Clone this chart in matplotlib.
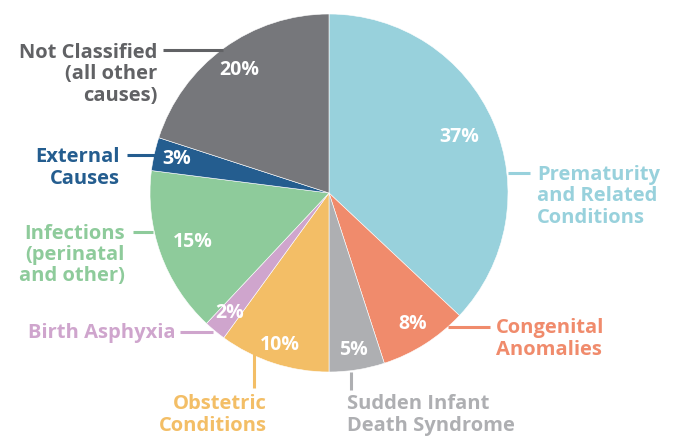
import numpy as np
import matplotlib
matplotlib.use("Agg")
import matplotlib.pyplot as plt

# Causes of infant death, share of total (%)
causes = [
    "Prematurity\nand Related\nConditions",
    "Congenital\nAnomalies",
    "Sudden Infant\nDeath Syndrome",
    "Obstetric\nConditions",
    "Birth Asphyxia",
    "Infections\n(perinatal\nand other)",
    "External\nCauses",
    "Not Classified\n(all other\ncauses)",
]
shares = [37, 8, 5, 10, 2, 15, 3, 20]

colors = ["#98d1dc", "#f08b6c", "#aeafb2", "#f3be66",
          "#cfa5cd", "#8ecb9b", "#245d8f", "#76777b"]
text_colors = ["#98d1dc", "#f08b6c", "#aeafb2", "#f3be66",
               "#cfa5cd", "#8ecb9b", "#245d8f", "#616265"]

W, H = 676, 436
fig = plt.figure(figsize=(W / 100, H / 100), dpi=100)
ax = fig.add_axes([0, 0, 1, 1])

cx, cy, R = 329, H - 193, 179
wedges, _ = ax.pie(shares, colors=colors, startangle=90, counterclock=False,
                   center=(cx, cy), radius=R, frame=True,
                   wedgeprops=dict(edgecolor="white", linewidth=0.4))
ax.set_xlim(0, W)
ax.set_ylim(0, H)
ax.set_aspect("equal")
ax.axis("off")

FONT = "Open Sans"

# percentage labels inside each wedge, placed along the wedge's mid-angle
pct_dist = [0.79, 0.87, 0.89, 0.89, 0.87, 0.81, 0.87, 0.85]
for w, s, d in zip(wedges, shares, pct_dist):
    mid = np.deg2rad((w.theta1 + w.theta2) / 2)
    ax.text(cx + d * R * np.cos(mid), cy + d * R * np.sin(mid), f"{s}%",
            ha="center", va="center", color="white", fontsize=14,
            fontweight="bold", family=FONT)

# outside labels: (x, y, ha) in pixels from top-left, plus leader segment
label_layout = [
    (537, 196, "left",  [(508, 173), (530, 173)]),
    (496, 339, "left",  [(448, 327), (490, 327)]),
    (347, 415, "left",  [(351, 372), (351, 390)]),
    (267, 415, "right", [(254, 347), (254, 388)]),
    (175, 333, "right", [(180, 332), (213, 332)]),
    (125, 255, "right", [(133, 232), (153, 232)]),
    (120, 168, "right", [(127, 155), (155, 155)]),
    (157, 74,  "right", [(163, 50),  (223, 50)]),
]
for name, tc, (x, y, ha, seg) in zip(causes, text_colors, label_layout):
    ax.text(x, H - y, name, ha=ha, va="center", multialignment=ha,
            color=tc, fontsize=14.5, fontweight="bold", family=FONT,
            linespacing=1.1)
    (x0, y0), (x1, y1) = seg
    ax.plot([x0, x1], [H - y0, H - y1], color=tc, lw=2.2, solid_capstyle="butt")

fig.savefig("out.png", dpi=100)
